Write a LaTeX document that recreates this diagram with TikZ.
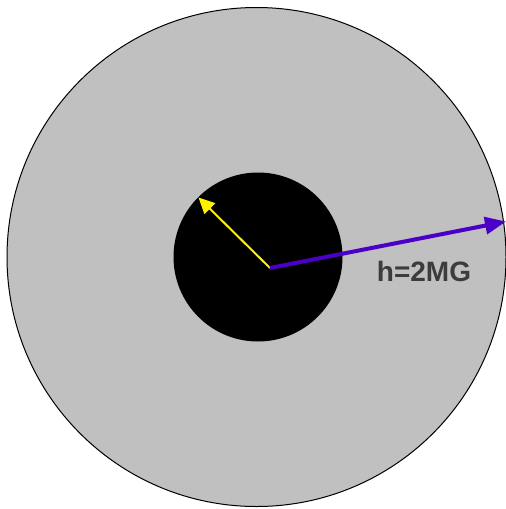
\documentclass[tikz,border=0pt]{standalone}
\usepackage{fontspec}
\setmainfont{Liberation Sans}
\usepackage{xcolor}
\usepackage{tikz}
\usetikzlibrary{arrows.meta,positioning}

\definecolor{discgray}{HTML}{C0C0C0}
\definecolor{hpurple}{HTML}{4B00C8}
\definecolor{labelgray}{HTML}{3C3C3C}

\begin{document}
\begin{tikzpicture}[
  x=1pt, y=-1pt,
  disc/.style={circle, inner sep=0pt, outer sep=0pt},
  outerdisc/.style={disc, fill=discgray, draw=black, line width=1pt, minimum size=499pt},
  core/.style={disc, fill=black, minimum size=169pt},
  radius arr/.style={-{Triangle[length=16pt, width=15pt]}, line width=2pt, yellow},
  h arr/.style={-{Triangle[length=21pt, width=17pt]}, line width=4pt, hpurple},
  hlabel/.style={font=\fontsize{28}{30}\selectfont\bfseries, text=labelgray,
                 inner sep=0pt, anchor=base}
]
\useasboundingbox (0,0) rectangle (506,509);

\node[outerdisc] (outer) at (256.5,257) {};
\node[core]      (inner) at (258,257) {};

\coordinate (ctr)  at (270,268);
\coordinate (ytip) at (198.5,197.5);
\coordinate (ptip) at (506,221.5);

\draw[radius arr] (ctr) -- (ytip);
\draw[h arr] (ctr) -- (ptip);

\node[hlabel] (hval) at (424,281.7) {h=2MG};
\end{tikzpicture}
\end{document}
